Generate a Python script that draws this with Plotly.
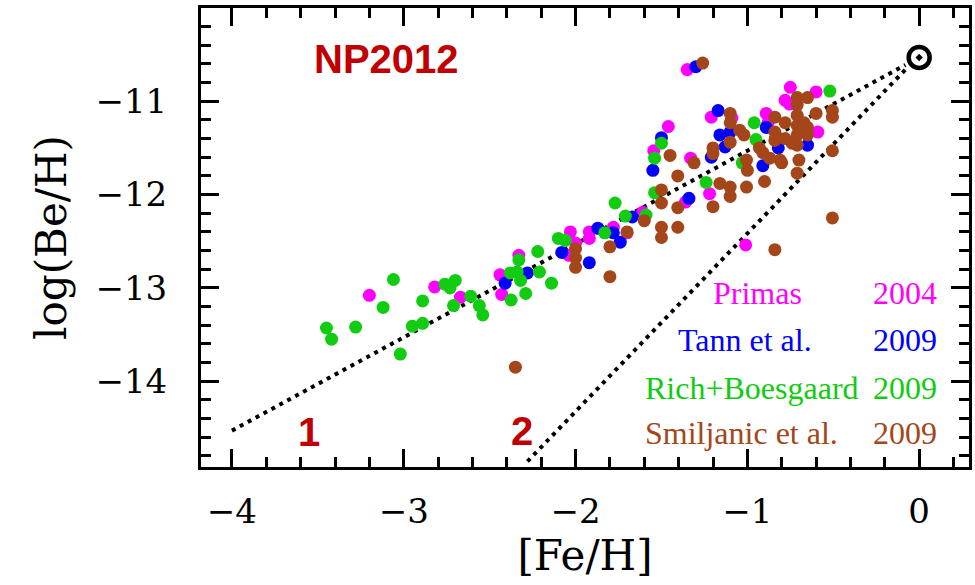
import plotly.graph_objects as go

# ---- Be abundances vs metallicity, by survey ----
PRIMAS_FEH = [-3.20, -2.82, -2.67, -2.44, -2.43, -2.33, -2.04, -2.03, -2.00, -1.92,
              -1.92, -1.78, -1.70, -1.61, -1.545, -1.46, -1.35, -1.36, -1.33, -1.22,
              -1.21, -1.09, -1.01, -0.89, -0.88, -0.78, -0.75, -0.755, -0.60, -0.59]
PRIMAS_BEH = [-13.08, -12.99, -13.10, -12.86, -13.07, -12.65, -12.65, -12.40, -12.52, -12.40,
              -12.47, -12.35, -12.41, -12.19, -11.53, -11.27, -10.66, -12.08, -11.61, -11.99,
              -11.17, -11.18, -12.54, -11.13, -11.23, -10.99, -10.85, -11.03, -10.90, -11.33]

TANN_FEH = [-2.41, -2.28, -2.08, -1.92, -1.87, -1.78, -1.74, -1.67, -1.55, -1.50,
            -1.34, -1.30, -1.21, -1.17, -1.16, -1.13, -1.10, -0.89, -0.82, -0.91, -0.65]
TANN_BEH = [-12.95, -12.84, -12.62, -12.73, -12.36, -12.41, -12.51, -12.24, -11.74, -11.39,
            -12.04, -10.63, -11.60, -11.10, -11.36, -11.49, -11.33, -11.28, -11.50, -11.69, -11.47]

RICH_FEH = [-3.45, -3.42, -3.28, -3.12, -3.06, -3.02, -2.95, -2.89, -2.89, -2.76,
            -2.73, -2.70, -2.71, -2.61, -2.56, -2.54, -2.38, -2.375, -2.32, -2.29,
            -2.33, -2.34, -2.22, -2.21, -2.14, -2.10, -2.06, -1.83, -1.77, -1.71,
            -1.59, -1.54, -1.50, -1.54, -1.24, -1.03, -0.96, -0.95, -0.52]
RICH_BEH = [-13.43, -13.55, -13.42, -13.21, -12.91, -13.71, -13.41, -13.38, -13.14, -12.96,
            -13.00, -12.92, -13.19, -13.09, -13.19, -13.29, -12.84, -13.13, -12.92, -13.06,
            -12.70, -12.83, -12.61, -12.83, -12.95, -12.47, -12.49, -12.41, -12.09, -12.23,
            -12.22, -11.61, -11.45, -11.98, -11.87, -11.66, -11.23, -11.41, -10.89]

SMIL_FEH = [-2.35, -2.00, -2.00, -2.00, -1.80, -1.80, -1.70, -1.60, -1.50, -1.50,
            -1.405, -1.50, -1.50, -1.405, -1.405, -1.45, -1.31, -1.26, -1.20, -1.20,
            -1.20, -1.16, -1.10, -1.10, -1.10, -1.10, -1.045, -1.02, -1.10, -1.005,
            -1.005, -0.93, -0.91, -0.87, -0.81, -0.90, -0.84, -0.84, -0.78, -0.84,
            -0.84, -0.78, -0.71, -0.65, -0.71, -0.71, -0.71, -0.71, -0.71, -0.65,
            -0.74, -0.67, -0.60, -0.65, -0.505, -0.505, -0.505, -0.505, -0.70, -0.71,
            -0.80, -1.00]
SMIL_BEH = [-13.85, -12.58, -12.68, -12.78, -12.56, -12.88, -12.40, -12.28, -12.35, -12.46,
            -12.35, -11.95, -12.09, -12.14, -11.80, -11.58, -11.66, -10.59, -11.50, -11.56,
            -12.13, -11.88, -11.92, -12.02, -11.13, -11.23, -11.31, -11.36, -11.44, -11.63,
            -11.92, -11.50, -11.55, -11.61, -11.63, -11.86, -12.59, -11.17, -11.23, -11.33,
            -11.42, -11.40, -10.96, -10.96, -11.04, -11.15, -11.26, -11.36, -11.47, -11.36,
            -11.45, -11.23, -11.13, -11.28, -11.10, -11.17, -11.53, -12.25, -11.63, -11.77,
            -11.66, -11.74]

# solar value and the two reference slopes (primary / secondary)
SUN_FEH = [0.0]
SUN_BEH = [-10.53]
LINE1_FEH = [-4.0, -0.08]
LINE1_BEH = [-14.53, -10.61]
LINE2_FEH = [-2.28, -0.08]
LINE2_BEH = [-14.86, -10.66]

SERIES = [
    ("Primas", "2004", PRIMAS_FEH, PRIMAS_BEH, "#ff00ff"),
    ("Tann et al.", "2009", TANN_FEH, TANN_BEH, "#0000ff"),
    ("Rich+Boesgaard", "2009", RICH_FEH, RICH_BEH, "#11cc11"),
    ("Smiljanic et al.", "2009", SMIL_FEH, SMIL_BEH, "#a5461a"),
]

fig = go.Figure()

for lx, ly in ((LINE1_FEH, LINE1_BEH), (LINE2_FEH, LINE2_BEH)):
    fig.add_trace(go.Scatter(x=lx, y=ly, mode="lines", showlegend=False,
                             line=dict(color="black", width=4, dash="4px,5px")))

for name, year, xs, ys, col in SERIES:
    fig.add_trace(go.Scatter(x=xs, y=ys, mode="markers", name=f"{name} {year}",
                             showlegend=False,
                             marker=dict(symbol="circle", size=13, color=col,
                                         line=dict(width=0))))

fig.add_trace(go.Scatter(x=SUN_FEH, y=SUN_BEH, mode="markers", showlegend=False,
                         marker=dict(symbol="circle-open-dot", size=21, color="black",
                                     line=dict(width=4.5, color="black"))))

# text labels inside the frame
RED = "#c00000"
ann = [
    dict(x=-3.1, y=-10.55, text="<b>NP2012</b>", font=dict(size=40, color=RED,
         family="Liberation Sans")),
    dict(x=-3.55, y=-14.55, text="<b>1</b>", font=dict(size=40, color=RED,
         family="Liberation Sans")),
    dict(x=-2.31, y=-14.53, text="<b>2</b>", font=dict(size=40, color=RED,
         family="Liberation Sans")),
]
LEG_Y = [-13.06, -13.56, -14.07, -14.56]
LEG_X = [-1.214, -1.417, -1.609, -1.609]
for (name, year, _, _, col), yy, xx in zip(SERIES, LEG_Y, LEG_X):
    ann.append(dict(x=xx, y=yy, text=name, xanchor="left",
                    font=dict(size=32, color=col, family="Liberation Serif")))
    ann.append(dict(x=0.116, y=yy, text=year, xanchor="right",
                    font=dict(size=32, color=col, family="Liberation Serif")))
for a in ann:
    a.setdefault("xanchor", "center")
    a.update(xref="x", yref="y", yanchor="middle", showarrow=False)
fig.update_layout(annotations=ann)

TICKFONT = dict(family="DejaVu Serif", size=34, color="black")
TITLEFONT = dict(family="DejaVu Serif", size=42, color="black")
common = dict(showline=True, linewidth=3, linecolor="black", mirror="allticks",
              ticks="inside", ticklen=18, tickwidth=2.5, tickcolor="black",
              showgrid=False, zeroline=False, tickfont=TICKFONT,
              minor=dict(ticks="inside", ticklen=10, tickwidth=2.5, tickcolor="black",
                         dtick=0.2, showgrid=False))

fig.update_xaxes(range=[-4.18, 0.29], tick0=-4, dtick=1, tickformat="d",
                 ticklabelstandoff=12,
                 title=dict(text="[Fe/H]", font=TITLEFONT, standoff=6),
                 **common)
fig.update_yaxes(range=[-14.92, -10.0], tick0=-14, dtick=1,
                 ticklabelstandoff=24,
                 title=dict(text="log(Be/H)", font=TITLEFONT, standoff=16),
                 **common)

fig.update_layout(width=975, height=585, plot_bgcolor="white", paper_bgcolor="white",
                  margin=dict(l=201, r=3, t=8, b=118))

fig.write_html("out.html")
